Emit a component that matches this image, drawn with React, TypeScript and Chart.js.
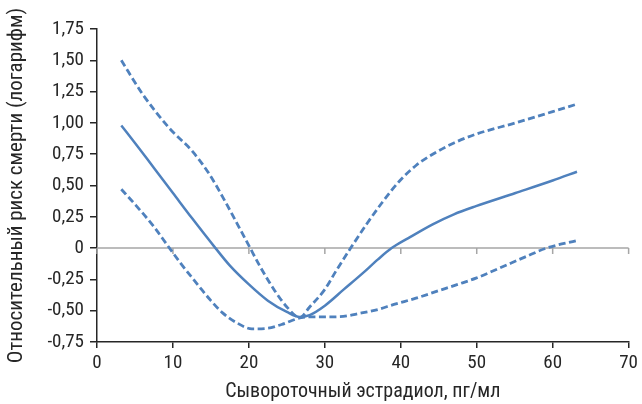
import React, { useEffect, useRef } from "react";
import { Chart, registerables } from "chart.js";

Chart.register(...registerables);

const estX = [3.2, 5, 7.5, 10, 12.5, 15.6, 17.5, 20, 22.5, 25, 26.7, 28, 30, 32.5, 35, 37, 38.8, 41, 44.2, 47, 49.9, 55.1, 60, 63.2];
const estY = [0.98, 0.84, 0.64, 0.44, 0.24, 0.0, -0.14, -0.29, -0.42, -0.51, -0.55, -0.535, -0.46, -0.33, -0.2, -0.09, 0.0, 0.08, 0.19, 0.27, 0.335, 0.44, 0.54, 0.61];

const upperX = [3.2, 6, 9.5, 12.6, 14.8, 16.9, 18.5, 20, 21.5, 23.4, 25, 26.7, 28, 30, 31.5, 33.4, 35.6, 37.5, 39.9, 42, 44.2, 47, 49.9, 55.1, 60, 63.2];
const upperY = [1.5, 1.23, 0.96, 0.77, 0.59, 0.37, 0.19, 0.02, -0.15, -0.34, -0.47, -0.555, -0.47, -0.33, -0.18, 0.0, 0.2, 0.36, 0.54, 0.66, 0.75, 0.84, 0.91, 1.0, 1.09, 1.15];

const lowerX = [3.2, 5, 7.5, 9.3, 11, 13.5, 15, 16.5, 18.5, 20.4, 22.5, 24.3, 26.9, 28, 30, 32, 34.7, 37, 39.1, 42, 45, 47.5, 49.9, 53, 56.4, 59.2, 63.2];
const lowerY = [0.47, 0.35, 0.17, 0.02, -0.12, -0.31, -0.42, -0.515, -0.6, -0.645, -0.64, -0.61, -0.555, -0.55, -0.55, -0.548, -0.52, -0.49, -0.45, -0.4, -0.34, -0.29, -0.24, -0.16, -0.07, 0.0, 0.06];

const xTitle = "Сывороточный эстрадиол, пг/мл";
const yTitle = "Относительный риск смерти (логарифм)";

const BLUE = "#4F81BD";
const AXIS = "#262626";
const FONT = "'Roboto Condensed', 'Arial Narrow', 'Liberation Sans Narrow', 'DejaVu Sans Condensed', sans-serif";

const toPts = (xs: number[], ys: number[]) => xs.map((x, i) => ({ x, y: ys[i] }));

const zeroLinePlugin = {
  id: "zeroLine",
  beforeDatasetsDraw(chart: any) {
    const { ctx, scales, chartArea } = chart;
    const y0 = scales.y.getPixelForValue(0);
    ctx.save();
    ctx.strokeStyle = "#a6a6a6";
    ctx.lineWidth = 1.5;
    ctx.beginPath();
    ctx.moveTo(chartArea.left, y0);
    ctx.lineTo(chartArea.right, y0);
    for (let v = 0; v <= 70; v += 10) {
      const px = scales.x.getPixelForValue(v);
      ctx.moveTo(px, y0);
      ctx.lineTo(px, y0 + 6);
    }
    ctx.stroke();
    ctx.restore();
  },
};

export default function App() {
  const ref = useRef<HTMLCanvasElement | null>(null);
  useEffect(() => {
    document.body.style.margin = "0";
    const common = {
      borderColor: BLUE,
      backgroundColor: BLUE,
      borderWidth: 2.5,
      pointRadius: 0,
      fill: false,
      cubicInterpolationMode: "monotone" as const,
    };
    const dashed = { borderWidth: 2.8, borderDash: [7, 3.5] };
    const chart = new Chart(ref.current as HTMLCanvasElement, {
      type: "line",
      data: {
        datasets: [
          { ...common, ...dashed, label: "upper", data: toPts(upperX, upperY) },
          { ...common, label: "estimate", data: toPts(estX, estY) },
          { ...common, ...dashed, label: "lower", data: toPts(lowerX, lowerY) },
        ],
      },
      options: {
        animation: false,
        responsive: false,
        layout: { padding: { left: 0, top: 29, right: 8, bottom: 0 } },
        plugins: { legend: { display: false }, tooltip: { enabled: false } },
        scales: {
          x: {
            type: "linear",
            min: 0,
            max: 70,
            afterFit: (s: any) => { s.height = 62; },
            ticks: { stepSize: 10, color: AXIS, font: { family: FONT, size: 19 }, padding: 4 },
            grid: { drawOnChartArea: false, drawTicks: true, tickLength: 6, color: AXIS, lineWidth: 1.5 },
            border: { color: AXIS, width: 1.5 },
            title: { display: true, text: xTitle, color: AXIS, font: { family: FONT, size: 20 }, padding: { top: 2, bottom: 0 } },
          },
          y: {
            type: "linear",
            min: -0.75,
            max: 1.75,
            afterFit: (s: any) => { s.width = 97; },
            ticks: {
              stepSize: 0.25,
              color: AXIS,
              font: { family: FONT, size: 19 },
              padding: 6,
              callback: (v: any) => (Number(v) === 0 ? "0" : Number(v).toFixed(2).replace(".", ",")),
            },
            grid: { drawOnChartArea: false, drawTicks: true, tickLength: 7, color: AXIS, lineWidth: 1.5 },
            border: { color: AXIS, width: 1.5 },
            title: { display: true, text: yTitle, color: AXIS, font: { family: FONT, size: 21 }, padding: { top: 4, bottom: 0 } },
          },
        },
      },
      plugins: [zeroLinePlugin],
    } as any);
    return () => chart.destroy();
  }, []);
  return (
    <div style={{ position: "relative", width: 642, height: 404 }}>
      <canvas ref={ref} width={642} height={404} style={{ width: 642, height: 404, display: "block" }} />
    </div>
  );
}
